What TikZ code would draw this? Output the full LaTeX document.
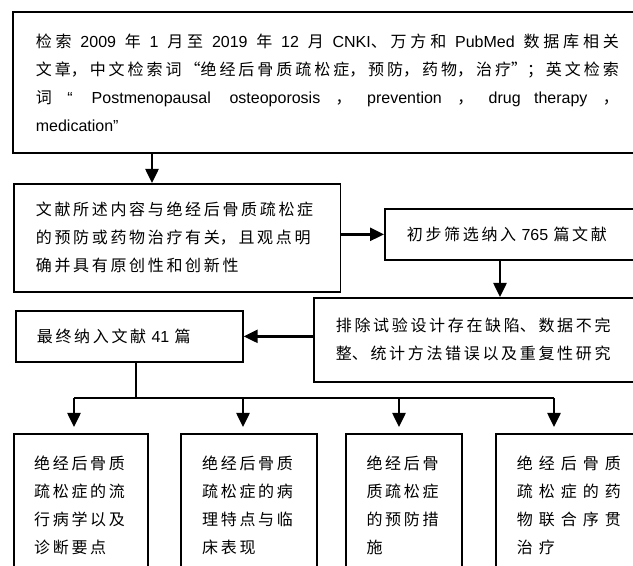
\documentclass[tikz,border=0pt]{standalone}
\usepackage{fontspec}
\usetikzlibrary{arrows.meta}
\setmainfont{Liberation Sans}
\newfontfamily\cjk[Script=CJK,Language=Chinese Simplified]{Noto Sans CJK SC}
\newfontfamily\latn{Liberation Sans}
\newcommand\en[1]{{\latn\fontsize{12pt}{21pt}\selectfont #1}}
\XeTeXlinebreaklocale "zh"
\XeTeXlinebreakskip=2pt plus 0.3pt minus 0.6pt
\tolerance=10000
\begin{document}
\begin{tikzpicture}[x=0.75pt,y=-0.75pt,
    box/.style={draw, line width=1.3pt, align=left, anchor=north west, inner ysep=0pt,
        font=\cjk\fontsize{12pt}{21pt}\selectfont},
    arr/.style={line width=1.9pt, -{Triangle[length=10.5pt,width=9.75pt]}}]
    \useasboundingbox (0,0) rectangle (633,566); % 画幅
    \clip (0,0) rectangle (633,566);
    \node[box, align=justify, text width=437.25pt, inner xsep=17.25pt, minimum height=105.75pt] (search) at (12,11)
        {检索 \en{2009} 年 \en{1} 月至 \en{2019} 年 \en{12} 月 \en{CNKI}、万方和 \en{PubMed} 数据库相关\linebreak
         文章，中文检索词“绝经后骨质疏松症，预防，药物，治疗”；英文检索\linebreak
         词 \en{“ Postmenopausal\hspace{14pt}osteoporosis} ， \en{prevention} ， \en{drug\hspace{10pt}therapy} ，\linebreak
         \en{medication”}}; % 检索
    \node[box, text width=212pt, inner xsep=16.5pt, minimum height=81pt] (criteria) at (13,183)
        {文献所述内容与绝经后骨质疏松症\\的预防或药物治疗有关，且观点明\\确并具有原创性和创新性}; % 纳入标准
    \node[box, text width=165pt, inner xsep=16.5pt, minimum height=38.25pt] (screen) at (384,208)
        {初步筛选纳入 \en{765} 篇文献}; % 初筛
    \node[box, text width=230pt, inner xsep=16.5pt, minimum height=63pt] (exclude) at (313,297)
        {排除试验设计存在缺陷、数据不完\\整、统计方法错误以及重复性研究}; % 排除
    \node[box, text width=138.75pt, inner xsep=15.75pt, minimum height=38.25pt] (final) at (15,310)
        {最终纳入文献 \en{41} 篇}; % 最终
    \node[box, text width=70pt, minimum width=100.5pt, inner ysep=16.5pt] (b1) at (13,433)
        {绝经后骨质\\疏松症的流\\行病学以及\\诊断要点};
    \node[box, text width=70pt, minimum width=102pt, inner ysep=16.5pt] (b2) at (180,433)
        {绝经后骨质\\疏松症的病\\理特点与临\\床表现};
    \node[box, text width=56pt, minimum width=87pt, inner ysep=16.5pt] (b3) at (345,433)
        {绝经后骨\\质疏松症\\的预防措\\施};
    \node[box, text width=90pt, inner xsep=15.75pt, inner ysep=16.5pt] (b4) at (495,433)
        {\XeTeXlinebreakskip=4.5pt\relax 绝经后骨质\\疏松症的药\\物联合序贯\\治疗};
    \coordinate (a1) at (152,0);
    \coordinate (a2) at (500,0);
    \draw[arr] (a1 |- search.south) -- (a1 |- criteria.north);
    \draw[arr] (criteria.east |- screen.west) -- (screen.west);
    \draw[arr] (a2 |- screen.south) -- (a2 |- exclude.north);
    \draw[arr] (exclude.west |- final.east) -- (final.east);
    \coordinate (fork) at (136,398); % 分叉点
    \coordinate (d1) at (74,398);
    \coordinate (d2) at (243,398);
    \coordinate (d3) at (399,398);
    \coordinate (d4) at (554,398);
    \draw[line width=1.9pt] (fork |- final.south) -- (fork);
    \draw[line width=1.9pt] (d1) -- (d4);
    \foreach \i in {1,...,4}
        \draw[arr, shorten >=4.5pt] (d\i) -- (d\i |- b\i.north);
\end{tikzpicture}
\end{document}
